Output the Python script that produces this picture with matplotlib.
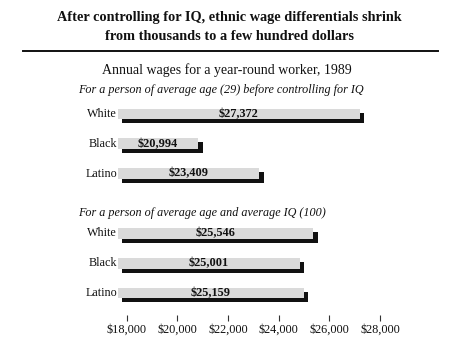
import matplotlib
matplotlib.use('Agg')
import matplotlib.pyplot as plt
from matplotlib.lines import Line2D
from matplotlib.transforms import Affine2D, blended_transform_factory

title_lines = ["After controlling for IQ, ethnic wage differentials shrink",
               "from thousands to a few hundred dollars"]
subtitle = "Annual wages for a year-round worker, 1989"
group_titles = ["For a person of average age (29) before controlling for IQ",
                "For a person of average age and average IQ (100)"]
categories = ["White", "Black", "Latino"]
before_iq = [27372, 20994, 23409]
after_iq = [25546, 25001, 25159]
tick_values = [18000, 20000, 22000, 24000, 26000, 28000]
tick_labels = ["$18,000", "$20,000", "$22,000", "$24,000", "$26,000", "$28,000"]

plt.rcParams['font.family'] = ['Liberation Serif', 'DejaVu Serif']

W, H = 451, 357
fig = plt.figure(figsize=(W / 100, H / 100), dpi=100)
fig.patch.set_facecolor('white')

ax = fig.add_axes([101.4 / W, 1 - 315 / H, 329.3 / W, 215 / H])
ax.set_xlim(17000, 30000)
ax.set_ylim(6.6, -0.6)

rows = [0, 1, 2, 4, 5, 6]
values = before_iq + after_iq
labels = categories * 2
base = 17830
bar_h = 0.36

face_tr = ax.transData + Affine2D().translate(-4.5, 4)
ax.barh(rows, [v - base for v in values], left=base, height=bar_h,
        color='#111111', linewidth=0)
ax.barh(rows, [v - base for v in values], left=base, height=bar_h,
        color='#dadada', linewidth=0, transform=face_tr)

for r, v in zip(rows, values):
    ax.text((base + v) / 2, r, "${:,}".format(v), transform=face_tr,
            ha='center', va='center', fontsize=8.8, fontweight='bold', color='#111111')

lab_tr = blended_transform_factory(fig.transFigure, ax.transData) + Affine2D().translate(0, 4)
for r, lab in zip(rows, labels):
    ax.text(117 / W, r, lab, transform=lab_tr, ha='right', va='center',
            fontsize=8.7, color='#111111')

ax.set_xticks(tick_values, tick_labels)
ax.set_yticks([])
ax.tick_params(axis='x', length=4, width=0.8, pad=2.5, labelsize=8.8,
               color='#333333', labelcolor='#111111')
for s in ax.spines.values():
    s.set_visible(False)
ax.patch.set_alpha(0)

fig.text(229.5 / W, 1 - 17 / H, title_lines[0], ha='center', va='center', fontsize=10.3,
         fontweight='bold', color='#111111')
fig.text(229.5 / W, 1 - 36 / H, title_lines[1], ha='center', va='center', fontsize=10.3,
         fontweight='bold', color='#111111')
fig.add_artist(Line2D([23 / W, 438 / W], [1 - 51 / H, 1 - 51 / H], color='#111111', lw=1.4))
fig.text(226.5 / W, 1 - 70 / H, subtitle, ha='center', va='center', fontsize=10, color='#111111')
fig.text(78 / W, 1 - 90 / H, group_titles[0], ha='left', va='center', fontsize=8.7,
         style='italic', color='#111111')
fig.text(78 / W, 1 - 213 / H, group_titles[1], ha='left', va='center', fontsize=8.7,
         style='italic', color='#111111')

fig.savefig('out.png', dpi=100)
